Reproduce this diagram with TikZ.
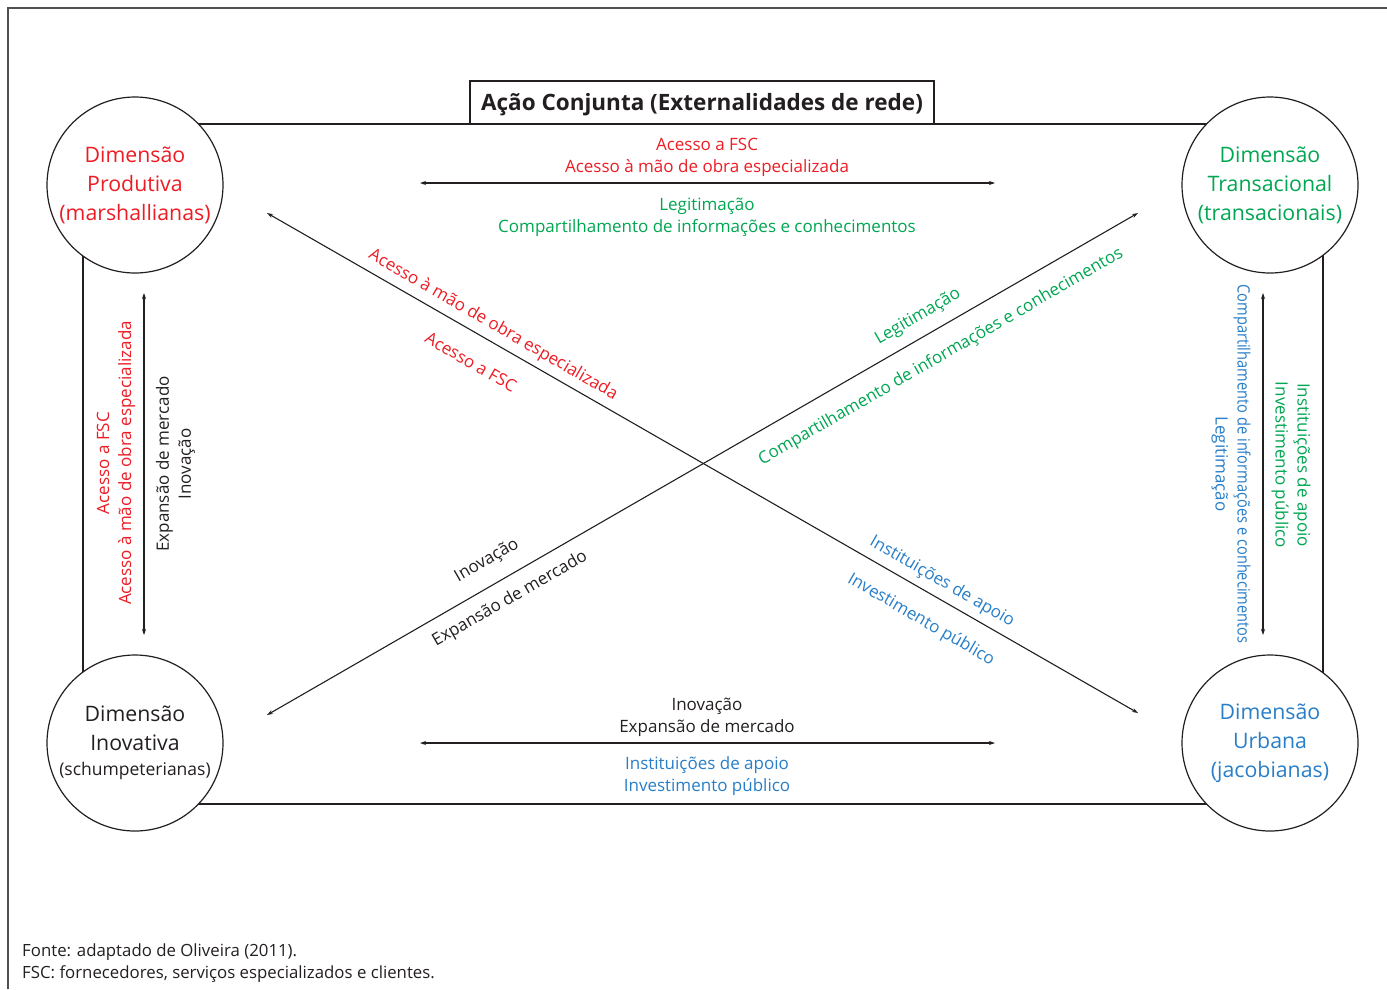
\documentclass[tikz,border=0pt]{standalone}
\usepackage{fontspec}
\setmainfont{Open Sans}
\usetikzlibrary{arrows.meta}
\definecolor{cred}{RGB}{237,28,36}
\definecolor{cgreen}{RGB}{0,166,81}
\definecolor{cblue}{RGB}{40,126,200}
\definecolor{ctext}{RGB}{35,31,32}
\definecolor{cframe}{RGB}{80,80,80}
\begin{document}
\begin{tikzpicture}[x=1pt,y=-1pt,
  dim/.style={circle,draw=ctext,line width=1.2pt,fill=white,minimum size=176pt,inner sep=0pt,align=center,font=\fontsize{21.3}{29}\selectfont},
  lbl/.style={align=center,font=\fontsize{17}{22}\selectfont,inner sep=0pt,text=ctext},
  conn/.style={draw=ctext,line width=1.1pt,{Stealth[length=6pt,width=4pt]}-{Stealth[length=6pt,width=4pt]}},
  edge/.style={draw=ctext,line width=1.2pt}]
\useasboundingbox (0,0) rectangle (1387,989);
% frame
\coordinate (fbl) at (8,989);
\coordinate (ftl) at (8,8);
\coordinate (ftr) at (1387,8);
\draw[cframe,line width=2pt] (fbl) -- (ftl) -- (ftr);
% rectangle
\coordinate (r1) at (83,124);
\coordinate (r2) at (1323,804);
\draw[edge] (r1) rectangle (r2);
% title
\node[draw=ctext,line width=1.2pt,fill=white,minimum width=464pt,minimum height=43pt,inner sep=0pt,text height=22pt,text depth=5.3pt,font=\fontsize{22.5}{26}\selectfont\bfseries,text=ctext] (title) at (702,102.5) {Ação Conjunta (Externalidades de rede)};
% circles
\node[dim,text=cred] (prod) at (135,185) {Dimensão\\Produtiva\\(marshallianas)};
\node[dim,text=cgreen] (trans) at (1270,185) {Dimensão\\Transacional\\(transacionais)};
\node[dim,text=ctext] (inov) at (135,743) {Dimensão\\Inovativa\\[-4pt]{\fontsize{17.5}{20}\selectfont(schumpeterianas)}};
\node[dim,text=cblue] (urb) at (1270,743) {Dimensão\\Urbana\\(jacobianas)};
% arrow endpoints
\coordinate (ta1) at (420,183);
\coordinate (ta2) at (995,183);
\coordinate (ba1) at (420,743);
\coordinate (ba2) at (995,743);
\coordinate (la1) at (144,293);
\coordinate (la2) at (144,635);
\coordinate (ra1) at (1263,293);
\coordinate (ra2) at (1263,635);
\coordinate (d1a) at (267,213);
\coordinate (d1b) at (1138,713);
\coordinate (d2a) at (1138,213);
\coordinate (d2b) at (267,715);
\draw[conn] (ta1) -- (ta2);
\draw[conn] (ba1) -- (ba2);
\draw[conn] (la1) -- (la2);
\draw[conn] (ra1) -- (ra2);
\draw[conn] (d1a) -- (d1b);
\draw[conn] (d2a) -- (d2b);
% top labels
\node[lbl,text=cred] (t1) at (707,157) {Acesso a FSC\\Acesso à mão de obra especializada};
\node[lbl,text=cgreen] (t2) at (707,217) {Legitimação\\Compartilhamento de informações e conhecimentos};
% bottom labels
\node[lbl] (b1) at (707,717) {Inovação\\Expansão de mercado};
\node[lbl,text=cblue] (b2) at (707,776) {Instituições de apoio\\Investimento público};
% left labels
\node[lbl,text=cred,rotate=90] (l1) at (116,463) {Acesso a FSC\\Acesso à mão de obra especializada};
\node[lbl,rotate=90] (l2) at (175.5,464) {Expansão de mercado\\Inovação};
% right labels
\node[lbl,text=cgreen,rotate=-90] (rr1) at (1291,465) {Instituições de apoio\\Investimento público};
\node[lbl,text=cblue,rotate=-90] (rr2) at (1231,464) {\scalebox{0.86}[1]{Compartilhamento de informações e conhecimentos}\\Legitimação};
% diagonal labels
\node[lbl,text=cred,rotate=-30] (g1) at (493,325) {Acesso à mão de obra especializada};
\node[lbl,text=cred,rotate=-30] (g2) at (471,362) {Acesso a FSC};
\node[lbl,text=cblue,rotate=-30] (g3) at (942,582) {Instituições de apoio};
\node[lbl,text=cblue,rotate=-30] (g4) at (921,620) {Investimento público};
\node[lbl,text=cgreen,rotate=30] (g5) at (918,317) {Legitimação};
\node[lbl,text=cgreen,rotate=30] (g6) at (941,357) {Compartilhamento de informações e conhecimentos};
\node[lbl,rotate=30] (g7) at (487,561) {Inovação};
\node[lbl,rotate=30] (g8) at (510,599) {Expansão de mercado};
% footer
\node[lbl,align=left,anchor=west,font=\fontsize{16.8}{22}\selectfont] (foot) at (22,963) {Fonte: adaptado de Oliveira (2011).\\FSC: fornecedores, serviços especializados e clientes.};
\end{tikzpicture}
\end{document}
